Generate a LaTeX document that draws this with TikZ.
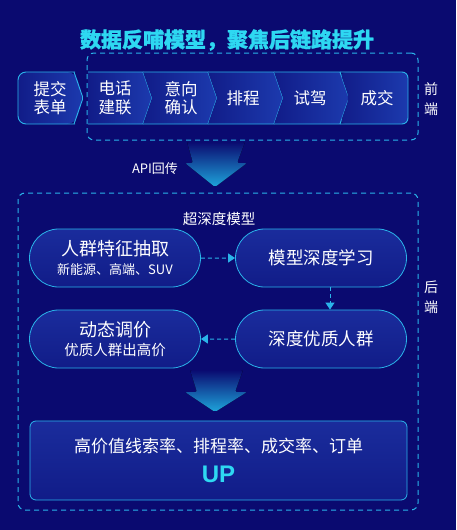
\documentclass[tikz,border=0pt]{standalone}
\usepackage{fontspec}
\setmainfont{Noto Sans CJK SC}
\newfontfamily\titlefont[BoldFeatures={FakeBold=1.2}]{Noto Sans CJK SC}
\newfontfamily\upfont{Liberation Sans}
\usetikzlibrary{arrows.meta,calc,positioning,shapes.misc}
\definecolor{BgNavy}{HTML}{0A0A70}
\definecolor{LineCyan}{HTML}{2AB4EA}
\definecolor{TitleCyan}{HTML}{2ED8F2}
\definecolor{BoxFill}{HTML}{111C88}
\definecolor{BoxTop}{HTML}{1A2C9C}
\definecolor{TramoLuz}{HTML}{1C3AAE}
\definecolor{ArrowBlue}{HTML}{1EA6DC}
\newcommand{\fs}[1]{\fontsize{#1}{#1}\selectfont}

\begin{document}
\begin{tikzpicture}[x=1pt, y=-1pt,
    caja/.style={rectangle, rounded corners=7pt, dash pattern=on 5pt off 4pt,
      draw=LineCyan, line width=1pt, inner sep=0pt},
    pildora/.style={rounded rectangle, draw=LineCyan, line width=0.8pt,
      top color=BoxTop, bottom color=BoxFill, minimum width=171pt,
      minimum height=58pt, align=center, text=white, inner sep=0pt},
    tramo/.style={left color=BoxFill, right color=TramoLuz},
    borde/.style={draw=LineCyan, line width=0.9pt, line join=round},
    paso/.style={align=center, text=white, font=\fs{16.5}, inner sep=0pt},
    lado/.style={align=center, text=white, font=\fs{14}, inner sep=0pt},
    etiqueta/.style={text=white, inner sep=0pt},
    flecha/.style={-{Triangle[length=7pt,width=9pt]}, draw=LineCyan,
      line width=1pt, dash pattern=on 4pt off 3pt},
    bajada/.style={top color=BgNavy, bottom color=ArrowBlue, rounded corners=2pt},
  ]

  % fondo
  \fill[BgNavy] (0,0) rectangle (456,530);
  \useasboundingbox (0,0) rectangle (456,530);

  \node[text=TitleCyan, font=\titlefont\bfseries\fs{21}] (titulo) at (227,40) {数据反哺模型，聚焦后链路提升};

  % front end
  \node[caja, minimum width=331pt, minimum height=87pt] (frente) at (252.5,96.5) {};
  \node[lado] (frentelbl) at (431,99) {前\\[6pt]端};

  \path[tramo, rounded corners=8pt] (75,72) -- (18,72) -- (18,124) -- (75,124) -- (83,98) -- cycle;
  \draw[borde, rounded corners=8pt] (75,72) -- (18,72) -- (18,124) -- (75,124);
  \draw[borde, rounded corners=2pt] (74,72) -- (83,98) -- (74,124);
  \path[tramo] (88,72) -- (143,72) -- (152,98) -- (143,124) -- (88,124) -- cycle;
  \draw[borde] (88,72) -- (143,72) -- (152,98) -- (143,124) -- (88,124);
  \foreach \l/\t in {152/217, 217/283, 283/349} {
    \path[tramo] (\l-9,72) -- (\t-9,72) -- (\t,98) -- (\t-9,124) -- (\l-9,124) -- (\l,98) -- cycle;
    \draw[borde] (\l-9,72) -- (\t-9,72) -- (\t,98) -- (\t-9,124) -- (\l-9,124);
  }
  \path[tramo, rounded corners=6pt] (340,72) -- (408,72) -- (408,124) -- (340,124) -- (349,98) -- cycle;
  \draw[borde, rounded corners=6pt] (340,72) -- (408,72) -- (408,124) -- (340,124);

  \node[paso] (form)    at (50,98)  {提交\\[2pt]表单};
  \node[paso] (llamada) at (115,98) {电话\\[2pt]建联};
  \node[paso] (interes) at (181,98) {意向\\[2pt]确认};
  \node[paso] (agenda)  at (243,98) {排程};
  \node[paso] (prueba)  at (310,98) {试驾};
  \node[paso] (cierre)  at (377,98) {成交};

  % back end
  \node[caja, minimum width=400pt, minimum height=317pt] (fondo) at (218,351.5) {};
  \node[lado] (fondolbl) at (431,297) {后\\[6pt]端};

  \fill[bajada] (187,142) -- (245,142) -- (237,163) -- (247,163) -- (215,187)
    -- (185,163) -- (193,163) -- cycle;
  \node[etiqueta, font=\fs{13}] (api) at (155,169) {API回传};

  \node[etiqueta, font=\fs{14.5}] (modelo) at (219,219) {超深度模型};

  \node[pildora] (rasgos)  at (115,258) {{\fs{18}人群特征抽取}\\[5pt]{\fs{13}新能源、高端、SUV}};
  \node[pildora] (aprende) at (321,258) {\fs{17.5}模型深度学习};
  \node[pildora] (premium) at (321,339) {\fs{17.5}深度优质人群};
  \node[pildora] (precio)  at (115,339) {{\fs{18}动态调价}\\[5pt]{\fs{14.5}优质人群出高价}};

  \draw[flecha] (rasgos) -- (aprende);
  \draw[flecha] ([xshift=9pt]aprende.south) -- ([xshift=9pt]premium.north);
  \draw[flecha] (premium) -- (precio);

  \fill[bajada] (190,370) -- (243,370) -- (235,392) -- (247,392) -- (215,412)
    -- (185,392) -- (197,392) -- cycle;

  \node[rectangle, rounded corners=6pt, draw=LineCyan, line width=0.8pt,
    top color=BoxTop, bottom color=BoxFill, minimum width=377pt,
    minimum height=79pt, align=center, text=white, inner sep=0pt] (meta) at (218.5,460.5)
    {{\fs{17}高价值线索率、排程率、成交率、订单}\\[11pt]{\color{TitleCyan}\upfont\bfseries\fs{24}UP}};

\end{tikzpicture}
\end{document}
